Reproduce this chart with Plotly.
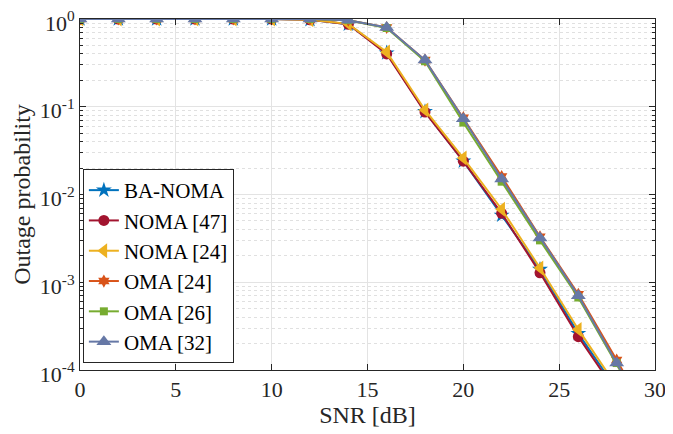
import plotly.graph_objects as go

snr = [0, 2, 4, 6, 8, 10, 12, 14, 16, 18, 20, 22, 24, 26, 28, 30]
ba_noma = [1, 1, 1, 1, 1, 1, 0.98, 0.87, 0.41, 0.088, 0.024, 0.0058, 0.0014, 0.00026, 6e-5, 1.1e-5]
noma_47 = [1, 1, 1, 1, 1, 1, 0.98, 0.87, 0.40, 0.087, 0.024, 0.0061, 0.00128, 0.00024, 5.5e-5, 1.0e-5]
noma_24 = [1, 1, 1, 1, 1, 1, 0.98, 0.88, 0.42, 0.092, 0.026, 0.0068, 0.00145, 0.00029, 6.5e-5, 1.2e-5]
oma_24 = [1, 1, 1, 1, 1, 1, 1, 0.97, 0.80, 0.34, 0.075, 0.016, 0.0033, 0.00073, 0.00013, 2.2e-5]
oma_26 = [1, 1, 1, 1, 1, 1, 1, 0.97, 0.79, 0.33, 0.066, 0.014, 0.0030, 0.00067, 0.00012, 2.0e-5]
oma_32 = [1, 1, 1, 1, 1, 1, 1, 0.97, 0.80, 0.34, 0.073, 0.015, 0.0032, 0.00070, 0.00012, 2.1e-5]

names = ["BA-NOMA", "NOMA [47]", "NOMA [24]", "OMA [24]", "OMA [26]", "OMA [32]"]
series = [ba_noma, noma_47, noma_24, oma_24, oma_26, oma_32]
colors = ["#0072BD", "#A2142F", "#EDB120", "#D95319", "#77AC30", "#6678A6"]
symbols = ["star", "circle", "triangle-left", "hexagram", "square", "triangle-up"]
sizes = [12, 11, 13, 10, 8, 13]

ytick_vals = [1e-4, 1e-3, 1e-2, 1e-1, 1]
ytick_text = ["10<sup>-4</sup>", "10<sup>-3</sup>", "10<sup>-2</sup>", "10<sup>-1</sup>", "10<sup>0</sup>"]
minor_vals = [m * 10 ** e for e in range(-4, 0) for m in range(2, 10)]

fig = go.Figure()
for n, s, c, sym, sz in zip(names, series, colors, symbols, sizes):
    fig.add_trace(go.Scatter(x=snr, y=s, name=n, mode="lines+markers",
                             line=dict(color=c, width=2),
                             marker=dict(symbol=sym, size=sz, color=c)))

font = "Times New Roman, Liberation Serif, serif"
fig.update_layout(
    width=665, height=426,
    margin=dict(l=72, r=18, t=11, b=64),
    paper_bgcolor="white", plot_bgcolor="white",
    font=dict(family=font, size=23, color="#262626"),
    showlegend=True,
    legend=dict(x=0.005, y=0.02, xanchor="left", yanchor="bottom",
                bgcolor="white", bordercolor="#262626", borderwidth=1,
                font=dict(family=font, size=21, color="black"),
                tracegroupgap=0, itemwidth=30),
    xaxis=dict(range=[0, 30], tickvals=[0, 5, 10, 15, 20, 25, 30],
               showline=True, linecolor="#262626", linewidth=1, mirror="ticks",
               ticks="inside", ticklen=6, tickcolor="#262626", automargin=False,
               showgrid=True, gridcolor="#e3e3e3", gridwidth=1, zeroline=False,
               tickfont=dict(size=22), ticklabeloverflow="allow",
               title=dict(text="SNR [dB]", standoff=4, font=dict(size=24))),
    yaxis=dict(type="log", range=[-4, 0], tickvals=ytick_vals, ticktext=ytick_text,
               showline=True, linecolor="#262626", linewidth=1, mirror="ticks",
               ticks="inside", ticklen=6, tickcolor="#262626", automargin=False,
               showgrid=True, gridcolor="#e3e3e3", gridwidth=1, zeroline=False,
               tickfont=dict(size=22), ticklabeloverflow="allow", ticklabelshift=4,
               minor=dict(tickvals=minor_vals, ticks="inside", ticklen=3,
                          tickcolor="#262626", showgrid=True,
                          gridcolor="#e0e0e0", griddash="dot", gridwidth=1),
               title=dict(text="Outage probability", standoff=2, font=dict(size=24))),
)

fig.write_html("out.html")
